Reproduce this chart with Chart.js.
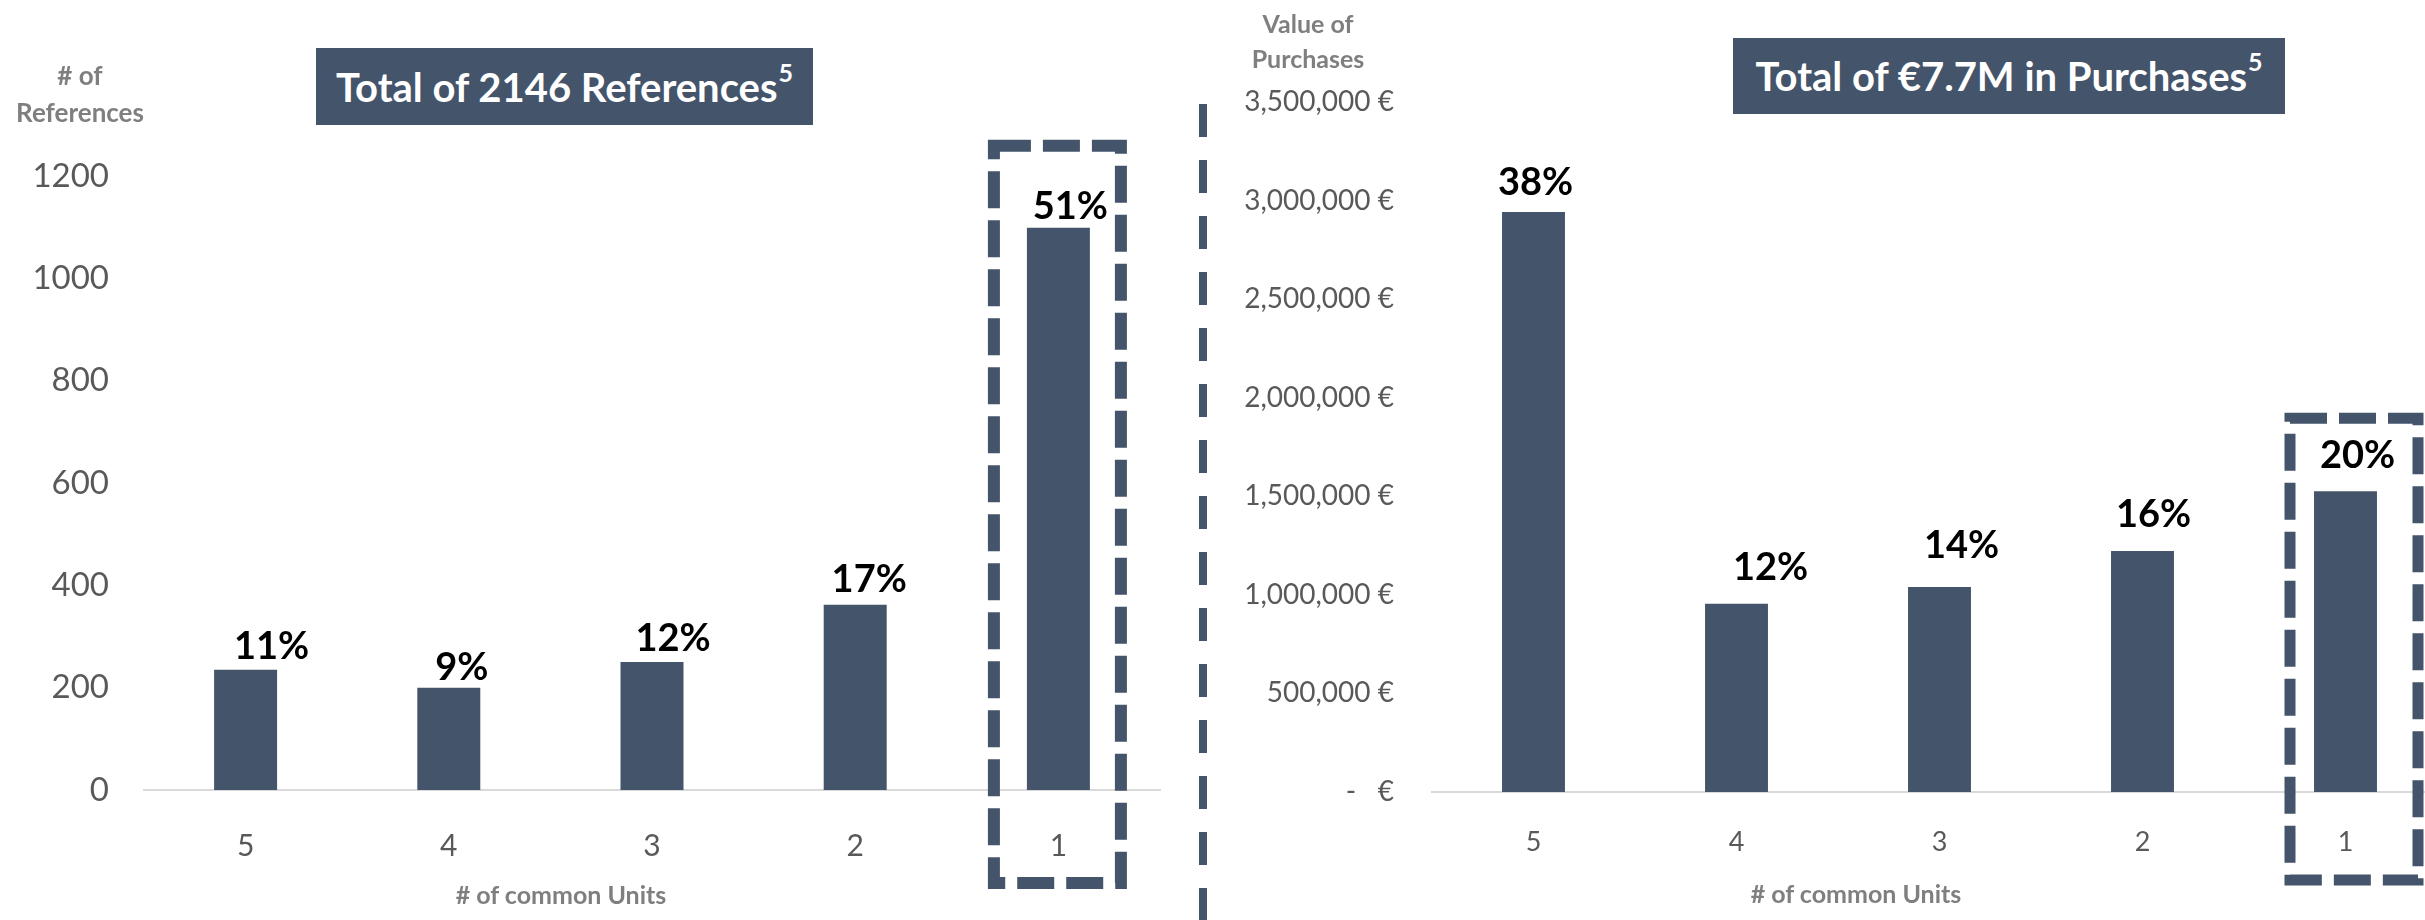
<!DOCTYPE html>
<html>
<head>
<meta charset="utf-8">
<title>Common units: references and purchases</title>
<script src="https://cdn.jsdelivr.net/npm/chart.js@4.4.1/dist/chart.umd.min.js"></script>
<style>
  html, body { margin: 0; padding: 0; background: #ffffff; }
  body { position: relative; width: 2425px; height: 920px; overflow: hidden; font-family: Lato, "Open Sans", sans-serif; }
  canvas { position: absolute; top: 0; }
  #refChart { left: 0; }
  #valChart { left: 1210px; }
  .banner { position: absolute; background: #44546A; color: #ffffff; font-weight: 700; font-size: 40px;
            display: flex; align-items: center; justify-content: center; white-space: nowrap; line-height: 1.2; }
  .banner .sup { font-size: 25px; position: relative; top: -15px; margin-left: 1px; }
  .axis-title { position: absolute; color: #7F7F7F; font-weight: 700; text-align: center; white-space: nowrap; }
  #separator { position: absolute; left: 1199px; top: 0; }
</style>
</head>
<body>
<canvas id="refChart" width="1190" height="920"></canvas>
<canvas id="valChart" width="1237" height="920"></canvas>

<div class="banner" id="refBanner" style="left:316px; top:48px; width:497px; height:77px;"></div>
<div class="banner" id="valBanner" style="left:1733px; top:38px; width:552px; height:76px;"></div>

<div class="axis-title" style="left:0; width:160px; top:57px; font-size:26px; line-height:37px;"># of<br>References</div>
<div class="axis-title" style="left:1228px; width:160px; top:6px; font-size:25px; line-height:35px;">Value of<br>Purchases</div>
<div class="axis-title" style="left:411px; width:300px; top:879px; font-size:25px; line-height:30px;"># of common Units</div>
<div class="axis-title" style="left:1706px; width:300px; top:878px; font-size:25px; line-height:30px;"># of common Units</div>

<svg id="separator" width="10" height="920">
  <line x1="4" y1="104" x2="4" y2="920" stroke="#44546A" stroke-width="8" stroke-dasharray="33 23"/>
</svg>

<script>
// Number of common units shared (x categories)
const unitCategories = ['5', '4', '3', '2', '1'];

// Number of references per group
const referenceCounts = [235, 200, 250, 362, 1099];

// Value of purchases per group, in euros
const purchaseValues = [2942000, 955000, 1040000, 1222000, 1526000];

// Y-axis tick values
const referenceTickValues = [0, 200, 400, 600, 800, 1000, 1200];
const purchaseTickValues = [0, 500000, 1000000, 1500000, 2000000, 2500000, 3000000, 3500000];

const BAR_COLOR = '#44546A';
const TICK_COLOR = '#595959';
const FONT = 'Lato';

const sum = arr => arr.reduce((a, b) => a + b, 0);

// Banner texts come from the totals of the series
document.getElementById('refBanner').innerHTML =
  'Total of ' + sum(referenceCounts) + ' References<span class="sup">5</span>';
document.getElementById('valBanner').innerHTML =
  'Total of \u20AC' + (sum(purchaseValues) / 1e6).toFixed(1) + 'M in Purchases<span class="sup">5</span>';

const groupThousands = v => String(v).replace(/\B(?=(\d{3})+(?!\d))/g, ',');

// Share-of-total labels above each bar
const shareLabels = {
  id: 'shareLabels',
  afterDatasetsDraw(chart, args, opts) {
    const { ctx } = chart;
    const values = chart.data.datasets[0].data;
    const total = sum(values);
    const meta = chart.getDatasetMeta(0);
    ctx.save();
    ctx.font = `700 ${opts.size}px ${FONT}`;
    ctx.fillStyle = '#000000';
    ctx.textAlign = 'center';
    ctx.textBaseline = 'alphabetic';
    meta.data.forEach((bar, i) => {
      const text = Math.round(values[i] / total * 100) + '%';
      ctx.fillText(text, bar.x + opts.dx[i], bar.y - opts.rise[i]);
    });
    ctx.restore();
  }
};

// Dashed frame around one highlighted category
const highlightFrame = {
  id: 'highlightFrame',
  afterDatasetsDraw(chart, args, opts) {
    const { ctx, chartArea } = chart;
    const bar = chart.getDatasetMeta(0).data[opts.index];
    const left = bar.x - opts.halfWidth + opts.shift;
    const top = bar.y - opts.above;
    const bottom = chartArea.bottom + opts.below;
    ctx.save();
    ctx.strokeStyle = BAR_COLOR;
    ctx.lineWidth = opts.lineWidth;
    ctx.setLineDash(opts.dash);
    ctx.strokeRect(left, top, opts.halfWidth * 2, bottom - top);
    ctx.restore();
  }
};

function makeChart(canvasId, values, tickValues, cfg) {
  return new Chart(document.getElementById(canvasId), {
    type: 'bar',
    data: {
      labels: unitCategories,
      datasets: [{
        data: values,
        backgroundColor: BAR_COLOR,
        borderWidth: 0,
        barPercentage: 0.31,
        categoryPercentage: 1
      }]
    },
    plugins: [shareLabels, highlightFrame],
    options: {
      responsive: false,
      animation: false,
      devicePixelRatio: 1,
      layout: { padding: { top: cfg.top, right: cfg.right, bottom: 0, left: 0 } },
      plugins: {
        legend: { display: false },
        tooltip: { enabled: false },
        shareLabels: cfg.labels,
        highlightFrame: cfg.frame
      },
      scales: {
        x: {
          grid: { display: false, drawTicks: false },
          border: { display: true, color: '#D9D9D9', width: 2 },
          ticks: { font: { family: FONT, size: cfg.xTickSize }, color: TICK_COLOR, padding: cfg.xTickPad },
          afterFit(scale) { scale.height = cfg.xHeight; }
        },
        y: {
          min: tickValues[0],
          max: tickValues[tickValues.length - 1],
          afterBuildTicks(scale) { scale.ticks = tickValues.map(v => ({ value: v })); },
          grid: { display: false, drawTicks: false },
          border: { display: false },
          ticks: {
            font: { family: FONT, size: cfg.yTickSize },
            color: TICK_COLOR,
            padding: cfg.yTickPad,
            callback: cfg.format
          },
          afterFit(scale) { scale.width = cfg.yWidth; }
        }
      }
    }
  });
}

makeChart('refChart', referenceCounts, referenceTickValues, {
  top: 176, right: 30, xHeight: 130, yWidth: 144,
  xTickSize: 30, xTickPad: 38, yTickSize: 33, yTickPad: 35,
  format: v => String(v),
  labels: { size: 38, dx: [26, 13, 21, 14, 12], rise: [11, 8, 11, 13, 9] },
  frame: { index: 4, halfWidth: 63.5, shift: -1, above: 82, below: 93, lineWidth: 12, dash: [37, 12] }
});

makeChart('valChart', purchaseValues, purchaseTickValues, {
  top: 102, right: 0, xHeight: 128, yWidth: 222,
  xTickSize: 27, xTickPad: 34, yTickSize: 28, yTickPad: 38,
  format: v => (v === 0 ? '-   \u20AC' : groupThousands(v) + ' \u20AC'),
  labels: { size: 38, dx: [2, 34, 22, 11, 12], rise: [17, 24, 29, 24, 23] },
  frame: { index: 4, halfWidth: 64, shift: 8.5, above: 73, below: 88, lineWidth: 11, dash: [37, 12] }
});
</script>
</body>
</html>
